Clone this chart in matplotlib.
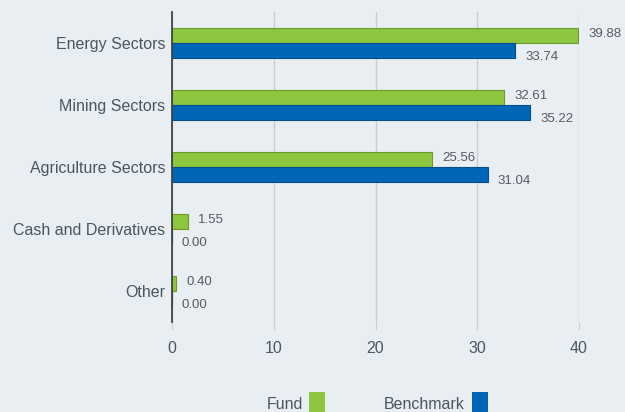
import matplotlib
matplotlib.use("Agg")
import matplotlib.pyplot as plt
from matplotlib.patches import Rectangle
import numpy as np

categories = ["Energy Sectors", "Mining Sectors", "Agriculture Sectors", "Cash and Derivatives", "Other"]
fund = [39.88, 32.61, 25.56, 1.55, 0.40]
benchmark = [33.74, 35.22, 31.04, 0.00, 0.00]
xticks = [0, 10, 20, 30, 40]

BG = "#e9eef2"
GREEN = "#8dc63f"
GREEN_E = "#6c9a2c"
BLUE = "#0066b8"
BLUE_E = "#00508f"
TXT = "#4a5663"
VAL = "#555b61"

plt.rcParams['font.family'] = ['Liberation Sans', 'DejaVu Sans']

fig = plt.figure(figsize=(6.25, 4.12), dpi=100, facecolor=BG)
ax = fig.add_axes([172/625, 1-322/412, (579-172)/625, (322-12)/412], facecolor=BG)

y = np.arange(len(categories))
h = 0.245
ax.barh(y - h/2, fund, height=h, color=GREEN, edgecolor=GREEN_E, linewidth=0.8, zorder=3)
ax.barh(y + h/2, benchmark, height=h, color=BLUE, edgecolor=BLUE_E, linewidth=0.8, zorder=3)

for i, (f, b) in enumerate(zip(fund, benchmark)):
    ax.annotate(f"{f:.2f}", (f, y[i] - h/2), xytext=(7.5, 1), textcoords="offset points",
                ha="left", va="center", fontsize=9.5, color=VAL, annotation_clip=False)
    ax.annotate(f"{b:.2f}", (b, y[i] + h/2), xytext=(7, -4.5), textcoords="offset points",
                ha="left", va="center", fontsize=9.5, color=VAL, annotation_clip=False)

ax.set_ylim(len(categories) - 0.5, -0.5)
ax.set_xlim(0, 40)
ax.set_yticks(y)
ax.set_yticklabels(categories, fontsize=11.5, color=TXT)
ax.set_xticks(xticks)
ax.set_xticklabels([str(t) for t in xticks], fontsize=11.5, color=TXT)
ax.tick_params(axis="y", length=0, pad=5)
ax.tick_params(axis="x", length=6, color="#c8cdd2", pad=8)
ax.grid(axis="x", color="#c9cdd1", linewidth=1, zorder=0)
for s in ["top", "right", "bottom"]:
    ax.spines[s].set_visible(False)
ax.spines["left"].set_color("#444444")
ax.spines["left"].set_linewidth(1.3)
ax.spines["left"].set_zorder(4)

# legend
fig.text(303/625, 1-409/412, "Fund", ha="right", va="baseline", fontsize=11.5, color=TXT)
fig.patches.append(Rectangle((309/625, 0), 16/625, 20/412, transform=fig.transFigure,
                             facecolor=GREEN, edgecolor="none"))
fig.text(465/625, 1-409/412, "Benchmark", ha="right", va="baseline", fontsize=11.5, color=TXT)
fig.patches.append(Rectangle((472/625, 0), 16/625, 20/412, transform=fig.transFigure,
                             facecolor=BLUE, edgecolor="none"))

fig.savefig("out.png", dpi=100, facecolor=BG)
